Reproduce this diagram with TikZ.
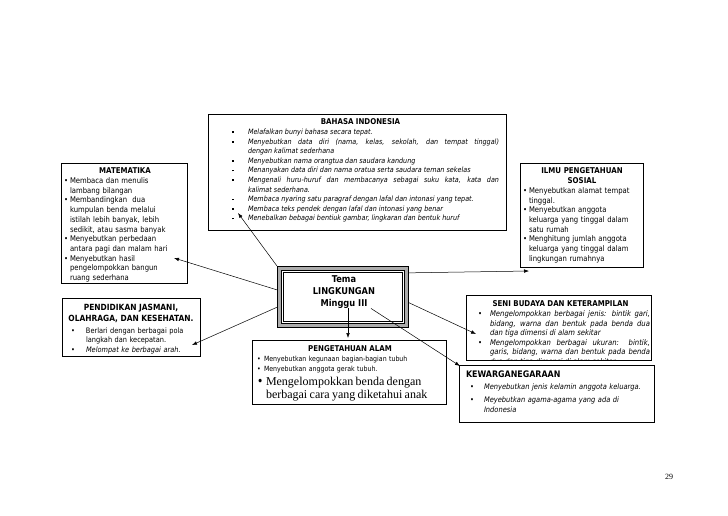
\documentclass[tikz,border=0pt]{standalone}
\usepackage{fontspec}
\setmainfont{DejaVu Sans}[FakeStretch=0.88]
\newfontfamily\tnr{Liberation Serif}
\usetikzlibrary{arrows.meta,calc}
\newcommand{\sqbul}{\raisebox{1.5pt}{\rule{1.6pt}{1.6pt}}}
\newcommand{\bitem}[3]{\par\noindent\hangindent=#1\hangafter=1\makebox[#1][l]{#2}#3}
\newcommand{\ttl}[3]{{\centering\fontsize{#1}{#2}\selectfont\bfseries\upshape #3\par}}
\tikzset{
  frame/.style={draw, line width=0.6pt, anchor=north west, inner sep=0pt, outer sep=0pt},
  body/.style={anchor=north west, inner sep=0pt, outer sep=0pt, font=\fontsize{7.3}{9.7}\selectfont},
  arr/.style={-{Latex[length=5pt,width=3.6pt]}, line width=0.5pt},
}
\begin{document}
\begin{tikzpicture}[x=1pt,y=-1pt]
\fill[white] (0,0) rectangle (728,515);
\useasboundingbox (0,0) rectangle (728,515);

% ---------- BAHASA INDONESIA
\node[frame, minimum width=298pt, minimum height=116pt] (bahasa) at (208,114) {};
\node[body, text width=267pt, align=justify, font=\fontsize{7.3}{9.6}\selectfont\itshape] (bahasa-t) at (232,119) {%
\ttl{8}{9.6}{\hspace*{-10pt}BAHASA INDONESIA}
\bitem{16pt}{\sqbul}{Melafalkan bunyi bahasa secara tepat.}
\bitem{16pt}{\sqbul}{Menyebutkan data diri (nama, kelas, sekolah, dan tempat tinggal)\linebreak dengan kalimat sederhana}
\bitem{16pt}{\sqbul}{Menyebutkan nama orangtua dan saudara kandung}
\bitem{16pt}{\sqbul}{Menanyakan data diri dan nama oratua serta saudara teman sekelas}
\bitem{16pt}{\sqbul}{Mengenali huru-huruf dan membacanya sebagai suku kata, kata dan\linebreak kalimat sederhana.}
\bitem{16pt}{\sqbul}{Membaca nyaring satu paragraf dengan lafal dan intonasi yang tepat.}
\bitem{16pt}{\sqbul}{Membaca teks pendek dengan lafal dan intonasi yang benar}
\bitem{16pt}{\sqbul}{Menebalkan bebagai bentiuk gambar, lingkaran dan bentuk huruf}\par};

% ---------- MATEMATIKA
\node[frame, minimum width=126pt, minimum height=120pt] (mat) at (61,163) {};
\node[body, text width=122pt, align=left, font=\fontsize{7.8}{9.7}\selectfont] (mat-t) at (64,168) {%
\ttl{8}{9.7}{MATEMATIKA}
\bitem{6pt}{\textbullet}{Membaca dan menulis\newline lambang bilangan}
\bitem{6pt}{\textbullet}{Membandingkan\ \ dua\newline kumpulan benda melalui\newline istilah lebih banyak, lebih\newline sedikit, atau sasma banyak}
\bitem{6pt}{\textbullet}{Menyebutkan perbedaan\newline antara pagi dan malam hari}
\bitem{6pt}{\textbullet}{Menyebutkan hasil\newline pengelompokkan bangun\newline ruang sederhana}\par};

% ---------- IPS
\node[frame, minimum width=123pt, minimum height=104pt] (ips) at (520,163) {};
\node[body, text width=120pt, align=left, font=\fontsize{7.8}{9.7}\selectfont] (ips-t) at (522,168) {%
\ttl{8}{9.7}{ILMU PENGETAHUAN\\ SOSIAL}
\bitem{7pt}{\hspace{1pt}\textbullet}{Menyebutkan alamat tempat\newline tinggal.}
\bitem{7pt}{\hspace{1pt}\textbullet}{Menyebutkan anggota\newline keluarga yang tinggal dalam\newline satu rumah}
\bitem{7pt}{\hspace{1pt}\textbullet}{Menghitung jumlah anggota\newline keluarga yang tinggal dalam\newline lingkungan rumahnya}\par};

% ---------- PENDIDIKAN JASMANI
\node[frame, minimum width=138pt, minimum height=58pt] (pend) at (62,298) {};
\node[body, text width=134pt, align=left, font=\fontsize{7.5}{9.7}\selectfont] (pend-t) at (64,304) {%
\ttl{8.5}{11}{PENDIDIKAN JASMANI,\\ OLAHRAGA, DAN KESEHATAN.}
\vspace{2pt}
\bitem{22pt}{\hspace{7pt}\textbullet}{Berlari dengan berbagai pola\newline langkah dan kecepatan.}
\bitem{22pt}{\hspace{7pt}\textbullet}{\itshape Melompat ke berbagai arah.}\par};

% ---------- TEMA (centre)
\node[draw, fill=gray!65, line width=0.6pt, minimum width=131pt, minimum height=61pt, anchor=north west, inner sep=0pt] (center) at (277,266) {};
\node[draw, fill=white, line width=0.5pt, minimum width=123pt, minimum height=53pt, inner sep=0pt] (center-in) at (center.center) {};
\node[draw, line width=0.4pt, minimum width=119pt, minimum height=49pt, inner sep=0pt] (center-in2) at (center.center) {};
\node[font=\fontsize{9.4}{11.8}\selectfont\bfseries, align=center, inner sep=0pt] (tema) at (344,292) {Tema\\LINGKUNGAN\\Minggu III};

% ---------- SENI BUDAYA
\node[frame, minimum width=185pt, minimum height=65pt] (seni) at (466,295) {};
\begin{scope}
\clip (seni.north west) rectangle (seni.south east);
\node[body, text width=179pt, align=justify, font=\fontsize{7.8}{9.6}\selectfont\itshape] (seni-t) at (471,301) {%
\ttl{8}{9.6}{SENI BUDAYA DAN KETERAMPILAN}
\bitem{19pt}{\hspace{7pt}\textbullet}{Mengelompokkan berbagai jenis: bintik gari,\linebreak bidang, warna dan bentuk pada benda dua\linebreak dan tiga dimensi di alam sekitar}
\bitem{19pt}{\hspace{7pt}\textbullet}{Mengelompokkan berbagai ukuran: bintik,\linebreak garis, bidang, warna dan bentuk pada benda\linebreak dua dan tiga dimensi di alam sekitar}\par};
\end{scope}

% ---------- PENGETAHUAN ALAM
\node[frame, minimum width=194pt, minimum height=64pt] (pa) at (252,340) {};
\node[body, text width=188pt, align=left, font=\fontsize{7.1}{9.8}\selectfont] (pa-t) at (256,346) {%
\ttl{8}{9.8}{PENGETAHUAN ALAM}
\bitem{8pt}{\hspace{1pt}\textbullet}{Menyebutkan kegunaan bagian-bagian tubuh}
\bitem{8pt}{\hspace{1pt}\textbullet}{Menyebutkan anggota gerak tubuh.}\par
{\fontsize{12}{13.5}\selectfont
\bitem{10pt}{\hspace{1pt}\textbullet}{\tnr Mengelompokkan benda dengan\newline berbagai cara yang diketahui anak}\par}};

% ---------- KEWARGANEGARAAN
\node[frame, minimum width=195pt, minimum height=57pt] (kew) at (459,365) {};
\node[body, text width=185pt, align=left, font=\fontsize{7.6}{10}\selectfont\itshape] (kew-t) at (466,370.5) {%
{\fontsize{9}{10}\selectfont\bfseries\upshape KEWARGANEGARAAN\par}
\vspace{2.5pt}
\bitem{18pt}{\hspace{4pt}\textbullet}{Menyebutkan jenis kelamin anggota keluarga.}
\vspace{2.5pt}
\bitem{18pt}{\hspace{4pt}\textbullet}{Meyebutkan agama-agama yang ada di\newline Indonesia}\par};

% ---------- page number
\node[font=\tnr\fontsize{8}{8}\selectfont, inner sep=0pt] (pg) at (669,477) {29};

% ---------- arrow tips
\coordinate (tipB) at (238,213);
\coordinate (tipM) at (174,258);
\coordinate (tipP) at (192,345);
\coordinate (tipI) at (529,271);
\coordinate (tipS) at (476,334);
\coordinate (tipA) at (348,338);
\coordinate (tipK) at (460,366);

\draw[arr] (center.north west) -- (tipB);
\draw[arr] (center.174) -- (tipM);
\draw[arr] (center.189) -- (tipP);
\draw[arr] (center.20) -- (tipI);
\draw[arr] (center.-5) -- (tipS);
\draw[arr] ([xshift=4pt]tema.south) -- (tipA);
\draw[arr] ([xshift=27pt]tema.south) -- (tipK);
\end{tikzpicture}
\end{document}
